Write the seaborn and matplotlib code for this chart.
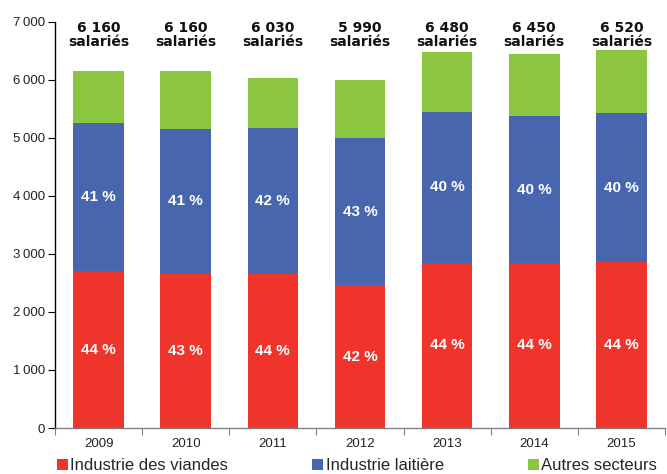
import matplotlib
matplotlib.use("Agg")
import matplotlib.pyplot as plt
from matplotlib.patches import Patch
import numpy as np
import seaborn as sns

# ----------------------------------------------------------------------------
# Data (salariés par secteur)
# ----------------------------------------------------------------------------
years = ["2009", "2010", "2011", "2012", "2013", "2014", "2015"]
viandes = [2700, 2650, 2650, 2460, 2850, 2850, 2860]
laitiere = [2550, 2510, 2520, 2540, 2590, 2520, 2560]
autres = [910, 1000, 860, 990, 1040, 1080, 1100]
totals_lbl = ["6 160", "6 160", "6 030", "5 990", "6 480", "6 450", "6 520"]
pct_viandes = ["44 %", "43 %", "44 %", "42 %", "44 %", "44 %", "44 %"]
pct_laitiere = ["41 %", "41 %", "42 %", "43 %", "40 %", "40 %", "40 %"]

series_names = ["Industrie des viandes", "Industrie laitière", "Autres secteurs"]
colors = ["#EF342C", "#4866AE", "#8CC540"]

sns.set_style("white")
plt.rcParams["font.family"] = ["Liberation Sans", "DejaVu Sans"]

v = np.array(viandes)
top_lait = v + np.array(laitiere)
top_all = top_lait + np.array(autres)

fig = plt.figure(figsize=(6.67, 4.74), dpi=100)
ax = fig.add_axes([0.0825, 0.097, 0.9145, 0.857])

# stacked bars: draw cumulative heights back-to-front
bar_w = 0.58
for heights, col in zip([top_all, top_lait, v], colors[::-1]):
    sns.barplot(x=years, y=heights, color=col, saturation=1, width=bar_w,
                ax=ax, linewidth=0)

# segment labels
for i in range(len(years)):
    ax.text(i, v[i] / 2, pct_viandes[i], ha="center", va="center",
            color="white", fontsize=11, fontweight="bold")
    ax.text(i, (v[i] + top_lait[i]) / 2, pct_laitiere[i], ha="center",
            va="center", color="white", fontsize=11, fontweight="bold")
    ax.text(i, 7010, totals_lbl[i] + "\nsalariés", ha="center", va="top",
            fontsize=10, fontweight="bold", linespacing=0.98,
            family="DejaVu Sans", color="#111111", clip_on=False)

ax.set_xlim(-0.5, 6.5)
ax.set_ylim(0, 7000)
ax.set_yticks(range(0, 7001, 1000))
ax.set_yticklabels([f"{t:,}".replace(",", "\u2009") for t in range(0, 7001, 1000)])
ax.set_xticks(range(len(years)))
ax.set_xticks(np.arange(-0.5, 7, 1), minor=True)
ax.set_xticklabels(years)
ax.set_xlabel("")
ax.set_ylabel("")

for s in ["top", "right"]:
    ax.spines[s].set_visible(False)
ax.spines["left"].set_color("black")
ax.spines["left"].set_linewidth(1.0)
ax.spines["bottom"].set_color("#808080")
ax.spines["bottom"].set_linewidth(1.0)

ax.tick_params(axis="y", which="major", left=True, length=5, width=0.8,
               color="black", labelsize=9.5, labelcolor="#222222", pad=2)
ax.tick_params(axis="x", which="major", bottom=False, labelsize=9.5,
               labelcolor="#222222", pad=4)
ax.tick_params(axis="x", which="minor", bottom=True, length=5, width=0.8,
               color="#808080")

handles = [Patch(facecolor=c, edgecolor="none") for c in colors]
fig.legend(handles, series_names, loc="lower left",
           bbox_to_anchor=(0.063, -0.03), ncol=3, frameon=False,
           fontsize=12, handlelength=0.65, handleheight=0.65,
           handletextpad=0.15, columnspacing=5.05)

fig.savefig("out.png", dpi=100)
